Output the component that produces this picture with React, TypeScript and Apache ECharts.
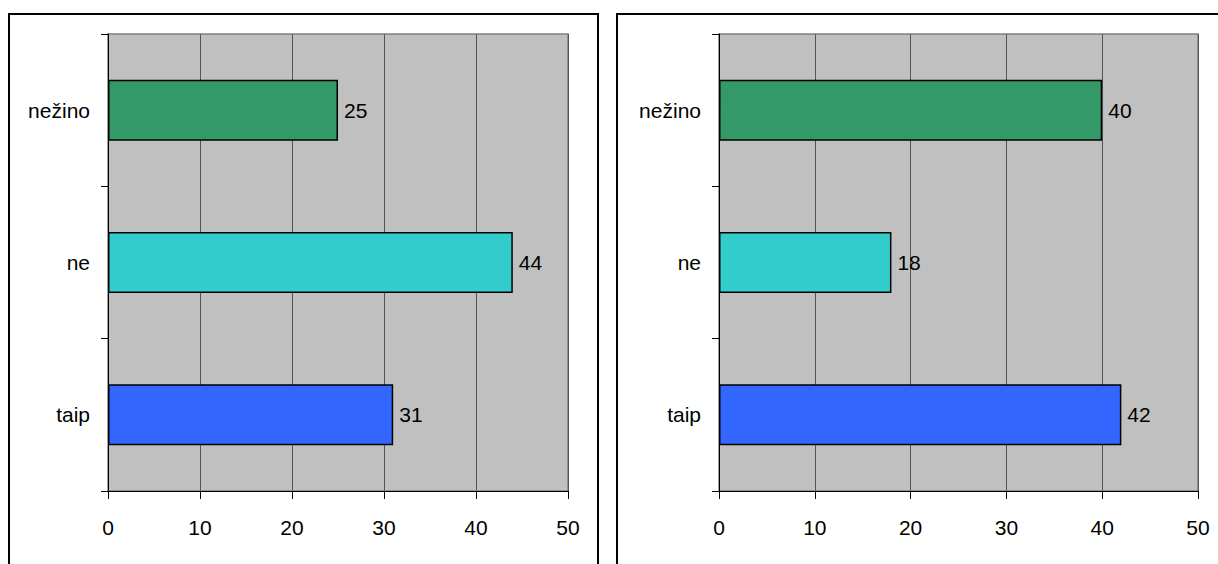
import React, { useEffect, useRef } from "react";
import * as echarts from "echarts";

const categories = ["taip", "ne", "nežino"];
const leftValues = [31, 44, 25];
const rightValues = [42, 18, 40];
const barColors = ["#3366ff", "#33cccc", "#339966"];
const xTicks = { min: 0, max: 50, interval: 10 };

const FONT = "'Liberation Sans', Arial, sans-serif";
const FS = 21;

export default function App() {
  const ref = useRef<HTMLDivElement>(null);
  useEffect(() => {
    document.body.style.margin = "0";
    const chart = echarts.init(ref.current!, undefined, { renderer: "svg" });
    const grids = [
      { left: 108, top: 34, width: 460, height: 457 },
      { left: 719, top: 34, width: 479, height: 457 },
    ];
    const mkX = (i: number) => ({
      type: "value",
      gridIndex: i,
      min: xTicks.min,
      max: xTicks.max,
      interval: xTicks.interval,
      axisLine: { show: true, lineStyle: { color: "#000", width: 1 } },
      axisTick: { show: true, length: 8, lineStyle: { color: "#000" } },
      axisLabel: { color: "#000", fontSize: FS, fontFamily: FONT, margin: 26 },
      splitLine: { show: true, lineStyle: { color: "#555", width: 1 } },
    });
    const mkY = (i: number) => ({
      type: "category",
      gridIndex: i,
      data: categories,
      axisLine: { show: true, lineStyle: { color: "#000", width: 1 } },
      axisTick: { show: true, length: 7, alignWithLabel: false, lineStyle: { color: "#000" } },
      axisLabel: { color: "#000", fontSize: FS, fontFamily: FONT, margin: 18 },
      splitLine: { show: false },
    });
    const mkSeries = (i: number, vals: number[]) => ({
      type: "bar",
      xAxisIndex: i,
      yAxisIndex: i,
      barWidth: "40%",
      data: vals.map((v, k) => ({
        value: v,
        itemStyle: { color: barColors[k], borderColor: "#000", borderWidth: 1.5 },
      })),
      label: {
        show: true,
        position: "right",
        distance: 6,
        color: "#000",
        fontSize: FS,
        fontFamily: FONT,
      },
    });
    chart.setOption({
      animation: false,
      backgroundColor: "#fff",
      graphic: [
        {
          type: "rect",
          shape: { x: 9, y: 14, width: 589, height: 600 },
          style: { fill: "none", stroke: "#000", lineWidth: 2 },
          z: -10,
        },
        {
          type: "rect",
          shape: { x: 617, y: 14, width: 700, height: 600 },
          style: { fill: "none", stroke: "#000", lineWidth: 2 },
          z: -10,
        },
      ],
      grid: grids.map((g) => ({
        ...g,
        show: true,
        backgroundColor: "#c0c0c0",
        borderColor: "#808080",
        borderWidth: 1.5,
      })),
      xAxis: [mkX(0), mkX(1)],
      yAxis: [mkY(0), mkY(1)],
      series: [mkSeries(0, leftValues), mkSeries(1, rightValues)],
    });
    return () => chart.dispose();
  }, []);
  return <div ref={ref} style={{ width: 1218, height: 564 }} />;
}
